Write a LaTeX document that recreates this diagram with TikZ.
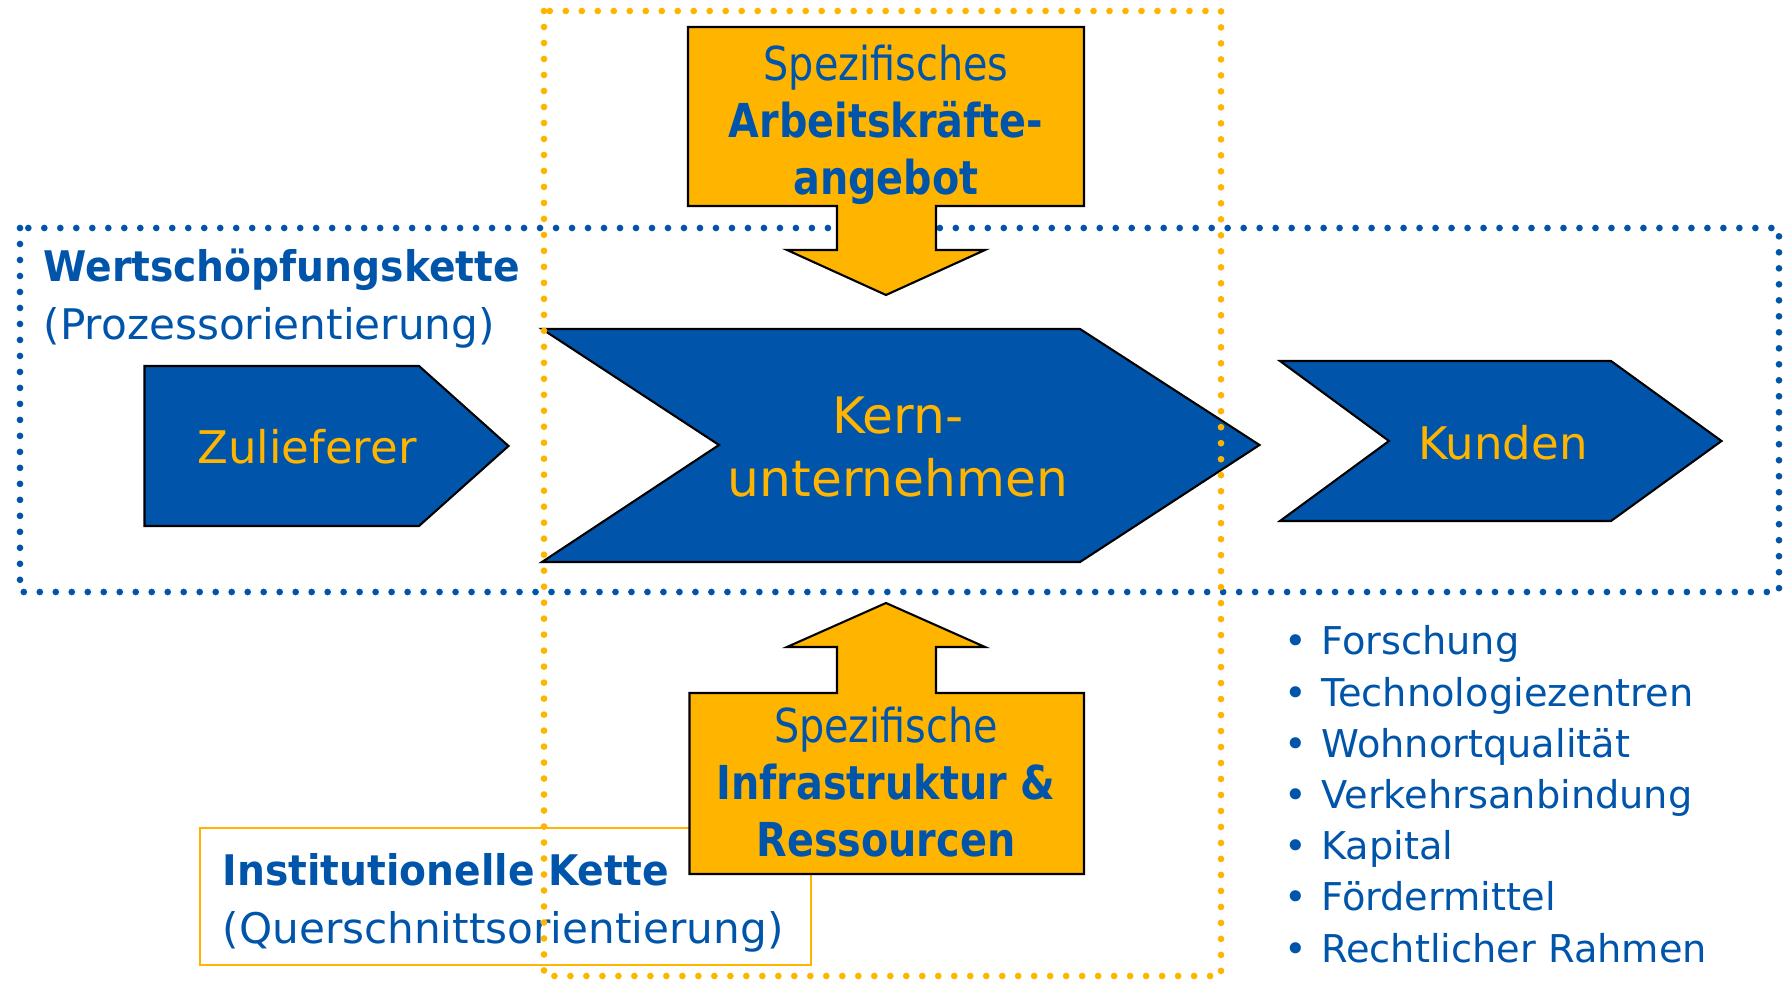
\documentclass[tikz,border=0pt]{standalone}
\usepackage{fontspec}
\setmainfont{DejaVu Sans}
\newfontfamily\boxfont{DejaVu Sans}[FakeStretch=0.85]
\newfontfamily\headfont{DejaVu Sans}[FakeStretch=0.93]
\definecolor{kblue}{RGB}{0,85,170}
\definecolor{korange}{RGB}{255,180,0}

\begin{document}
\begin{tikzpicture}[x=0.1mm,y=-0.1mm]
        \tikzstyle{every node}=[inner sep=0pt,align=center]
        \tikzstyle{bluedots}=[kblue,line width=1.9pt,line cap=round,dash pattern=on 0pt off 4.55pt]
        \tikzstyle{orangedots}=[korange,line width=1.9pt,line cap=round,dash pattern=on 0pt off 4.55pt]
        \tikzstyle{chev}=[fill=kblue,draw=black,line width=0.6pt,line join=miter]
        \tikzstyle{bigarrow}=[fill=korange,draw=black,line width=0.6pt]
        \tikzstyle{chevtext}=[text=korange,font=\fontsize{12.8}{15}\selectfont]
        \tikzstyle{boxtext}=[text=kblue,font=\boxfont\fontsize{13.3}{16.2}\selectfont]
        \tikzstyle{head}=[text=kblue,anchor=base west,font=\fontsize{12}{14}\selectfont]
        \tikzstyle{item}=[text=kblue,anchor=base west,font=\fontsize{10.9}{13}\selectfont]
        \useasboundingbox (0,0) rectangle (1784,981);

        %%% Wertschoepfungskette
        \draw[bluedots] (20,228) rectangle (1779,592);
        \node[head] (wsk) at (43,282) {\headfont\bfseries Wertschöpfungskette};
        \node[head] (wsksub) at (43,340) {(Prozessorientierung)};

        %%% Institutionelle Kette
        \draw[korange,line width=0.6pt] (200,828) rectangle (811,965);
        \node[head] (ik) at (222,886) {\headfont\bfseries Institutionelle Kette};
        \node[head] (iksub) at (222,944) {(Querschnittsorientierung)};

        %%% chain
        \draw[chev] (144.5,366) -- (419,366) -- (508.5,446) -- (419,526) -- (144.5,526) -- cycle;
        \draw[chev] (542,329) -- (1080,329) -- (1259.5,445) -- (1080,562) -- (542,562) -- (719,445) -- cycle;
        \draw[chev] (1280,361) -- (1611,361) -- (1721.5,441) -- (1611,521) -- (1280,521) -- (1389,441) -- cycle;
        \node[chevtext] (zul) at (307,447) {Zulieferer};
        \node[chevtext,font=\fontsize{14.3}{17.8}\selectfont] (kern) at (898,447) {Kern-\\unternehmen};
        \node[chevtext] (kun) at (1503,443) {Kunden};

        %%% arrows into the core
        \draw[bigarrow] (688,27) -- (1084,27) -- (1084,206) -- (936,206) -- (936,250) -- (985,250)
            -- (886,295) -- (787,250) -- (837,250) -- (837,206) -- (688,206) -- cycle;
        \draw[bigarrow] (689.5,874) -- (1084,874) -- (1084,693) -- (936,693) -- (936,647) -- (985,647)
            -- (886,603) -- (787,647) -- (837,647) -- (837,693) -- (689.5,693) -- cycle;
        \node[boxtext] (ak) at (886,125) {Spezifisches\\\bfseries Arbeitskräfte-\\\bfseries angebot};
        \node[boxtext] (infra) at (886,782) {Spezifische\\\bfseries Infrastruktur \&\\\bfseries Ressourcen};

        %%% list
        \foreach \t [count=\i from 0] in {Forschung, Technologiezentren, Wohnortqualität, Verkehrsanbindung, Kapital, Fördermittel, Rechtlicher Rahmen}
            \node[item] (li\i) at (1284,655+51.2*\i) {\textbullet\hspace{4pt}\t};

        %%% Institutionelle Kette (frame)
        \draw[orangedots] (544,11) rectangle (1221,976);
    \end{tikzpicture}
\end{document}
